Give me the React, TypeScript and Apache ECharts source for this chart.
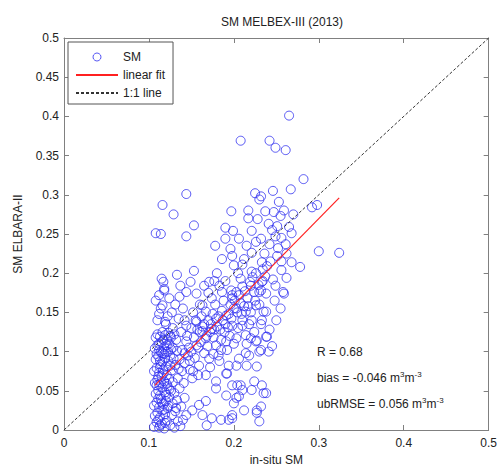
import React, { useEffect, useRef } from "react";
import * as echarts from "echarts";

const chartTitle = "SM MELBEX-III (2013)";
const xName = "in-situ SM";
const yName = "SM ELBARA-II";
const legendNames = ["SM", "linear fit", "1:1 line"];
const statLines = ["R = 0.68", "bias = -0.046 m{sup|3}m{sup|-3}", "ubRMSE = 0.056 m{sup|3}m{sup|-3}"];

// upper outliers and upper cloud
const upperPts: number[][] = [
  [0.265, 0.401], [0.208, 0.369], [0.242, 0.369], [0.249, 0.36], [0.261, 0.357], [0.282, 0.32],
  [0.144, 0.301], [0.116, 0.287], [0.129, 0.275], [0.153, 0.261], [0.108, 0.251], [0.114, 0.25],
  [0.144, 0.247], [0.225, 0.302], [0.232, 0.298], [0.246, 0.305], [0.267, 0.307], [0.23, 0.294],
  [0.197, 0.279], [0.217, 0.28], [0.217, 0.27], [0.228, 0.269], [0.237, 0.279], [0.247, 0.278],
  [0.253, 0.291], [0.259, 0.28], [0.255, 0.273], [0.27, 0.275], [0.241, 0.263], [0.251, 0.26],
  [0.265, 0.259], [0.19, 0.258], [0.199, 0.254], [0.206, 0.244], [0.221, 0.254], [0.232, 0.244],
  [0.242, 0.237], [0.249, 0.247], [0.268, 0.251], [0.261, 0.237], [0.178, 0.235], [0.19, 0.244],
  [0.196, 0.231], [0.186, 0.218], [0.198, 0.222], [0.212, 0.218], [0.221, 0.226], [0.233, 0.214],
  [0.251, 0.222], [0.239, 0.209], [0.268, 0.214], [0.278, 0.208], [0.256, 0.204], [0.262, 0.194],
  [0.249, 0.184], [0.258, 0.176], [0.21, 0.211], [0.221, 0.202], [0.208, 0.193], [0.219, 0.189],
  [0.21, 0.183], [0.233, 0.189], [0.133, 0.198], [0.153, 0.203], [0.115, 0.193], [0.117, 0.189],
  [0.118, 0.178], [0.137, 0.184], [0.149, 0.189], [0.165, 0.184], [0.171, 0.189], [0.177, 0.19],
  [0.183, 0.184], [0.186, 0.176], [0.197, 0.178], [0.203, 0.176], [0.224, 0.176], [0.232, 0.178],
  [0.238, 0.174], [0.298, 0.287], [0.292, 0.284], [0.3, 0.228], [0.324, 0.226],
];

// middle cloud
const middlePts: number[][] = [
  [0.136, 0.17], [0.144, 0.176], [0.156, 0.174], [0.163, 0.159], [0.174, 0.168], [0.198, 0.168],
  [0.22, 0.184], [0.23, 0.176], [0.259, 0.174], [0.234, 0.19], [0.116, 0.159], [0.112, 0.148],
  [0.119, 0.138], [0.122, 0.145], [0.144, 0.133], [0.156, 0.138], [0.167, 0.151], [0.179, 0.142],
  [0.191, 0.146], [0.203, 0.155], [0.214, 0.151], [0.226, 0.159], [0.238, 0.151], [0.221, 0.14],
  [0.233, 0.14], [0.198, 0.133], [0.21, 0.133], [0.174, 0.129], [0.163, 0.126], [0.235, 0.151],
  [0.239, 0.119], [0.245, 0.107], [0.241, 0.1], [0.232, 0.102], [0.144, 0.113], [0.156, 0.108],
  [0.167, 0.117], [0.179, 0.108], [0.191, 0.113], [0.203, 0.117], [0.214, 0.121], [0.226, 0.113],
  [0.238, 0.119], [0.23, 0.1], [0.218, 0.095], [0.206, 0.091], [0.194, 0.082], [0.183, 0.088],
  [0.171, 0.091], [0.159, 0.082], [0.148, 0.088], [0.214, 0.098], [0.22, 0.117], [0.227, 0.114],
  [0.135, 0.078], [0.142, 0.085], [0.146, 0.095], [0.15, 0.1], [0.154, 0.092], [0.158, 0.105],
  [0.161, 0.112], [0.165, 0.098], [0.168, 0.12], [0.172, 0.125], [0.176, 0.118], [0.18, 0.132],
  [0.184, 0.128], [0.187, 0.14], [0.19, 0.135], [0.194, 0.148], [0.197, 0.142], [0.2, 0.155],
  [0.204, 0.15], [0.208, 0.162], [0.212, 0.158], [0.216, 0.168], [0.16, 0.125], [0.165, 0.135],
  [0.17, 0.14], [0.175, 0.148], [0.185, 0.115], [0.195, 0.12], [0.205, 0.13], [0.145, 0.12],
  [0.15, 0.13], [0.155, 0.14], [0.162, 0.145], [0.178, 0.16], [0.188, 0.165], [0.198, 0.172],
  [0.22, 0.15], [0.225, 0.165], [0.23, 0.16], [0.218, 0.135], [0.21, 0.14],
  [0.108, 0.165], [0.112, 0.172], [0.118, 0.18], [0.124, 0.168], [0.114, 0.155], [0.127, 0.15],
  [0.131, 0.16], [0.12, 0.135], [0.11, 0.14], [0.135, 0.142], [0.14, 0.155],
];

// additional points in the diagonal cloud
const diagonalPts: number[][] = [
  [0.147, 0.105], [0.153, 0.118], [0.157, 0.128], [0.163, 0.132], [0.169, 0.107], [0.173, 0.135],
  [0.177, 0.128], [0.182, 0.145], [0.186, 0.152], [0.189, 0.125], [0.193, 0.131], [0.196, 0.16],
  [0.201, 0.165], [0.206, 0.172], [0.209, 0.148], [0.213, 0.177], [0.217, 0.158], [0.222, 0.195],
  [0.226, 0.2], [0.229, 0.185], [0.234, 0.205], [0.237, 0.196], [0.243, 0.215], [0.246, 0.192],
  [0.252, 0.232], [0.256, 0.215], [0.205, 0.2], [0.2, 0.21], [0.215, 0.235], [0.226, 0.24],
  [0.236, 0.225], [0.245, 0.255], [0.256, 0.245], [0.262, 0.225], [0.19, 0.19], [0.18, 0.2],
  [0.17, 0.175], [0.16, 0.16], [0.152, 0.15], [0.142, 0.14], [0.138, 0.125], [0.142, 0.098],
  [0.148, 0.077], [0.132, 0.115], [0.128, 0.13], [0.185, 0.102], [0.176, 0.097], [0.215, 0.11],
  [0.224, 0.125], [0.232, 0.135], [0.242, 0.128], [0.25, 0.14], [0.255, 0.155], [0.248, 0.165],
];

// lower right scatter
const lowerPts: number[][] = [
  [0.227, 0.081], [0.224, 0.062], [0.233, 0.057], [0.235, 0.047], [0.221, 0.051], [0.232, 0.03],
  [0.227, 0.022], [0.23, 0.011], [0.212, 0.025], [0.206, 0.043], [0.2, 0.034], [0.198, 0.019],
  [0.194, 0.013], [0.185, 0.013], [0.179, 0.062], [0.204, 0.057], [0.192, 0.072], [0.215, 0.082],
  [0.203, 0.082], [0.139, 0.075], [0.151, 0.066], [0.167, 0.07], [0.191, 0.072], [0.198, 0.057],
  [0.208, 0.057], [0.21, 0.051], [0.179, 0.053], [0.167, 0.037], [0.159, 0.032], [0.151, 0.025],
  [0.144, 0.019], [0.163, 0.019], [0.174, 0.015], [0.198, 0.015], [0.227, 0.025], [0.203, 0.041],
  [0.191, 0.044], [0.238, 0.047], [0.136, 0.053], [0.142, 0.041], [0.132, 0.028], [0.168, 0.006],
  [0.152, 0.075], [0.158, 0.07], [0.172, 0.08], [0.182, 0.095], [0.192, 0.102], [0.2, 0.11],
];

// dense band near 0.11
const bandPts: number[][] = [
  [0.106, 0.004], [0.109, 0.01], [0.112, 0.003], [0.115, 0.008], [0.118, 0.002], [0.121, 0.012],
  [0.125, 0.006], [0.13, 0.003], [0.134, 0.011], [0.107, 0.018], [0.11, 0.022], [0.113, 0.016],
  [0.116, 0.025], [0.119, 0.02], [0.122, 0.028], [0.127, 0.019], [0.131, 0.024], [0.106, 0.031],
  [0.109, 0.035], [0.112, 0.029], [0.114, 0.04], [0.117, 0.033], [0.12, 0.037], [0.124, 0.042],
  [0.128, 0.034], [0.133, 0.038], [0.108, 0.046], [0.111, 0.05], [0.113, 0.044], [0.116, 0.054],
  [0.119, 0.048], [0.122, 0.056], [0.126, 0.05], [0.13, 0.047], [0.107, 0.06], [0.11, 0.064],
  [0.112, 0.058], [0.115, 0.068], [0.118, 0.062], [0.121, 0.07], [0.124, 0.065], [0.128, 0.061],
  [0.134, 0.066], [0.106, 0.075], [0.109, 0.079], [0.112, 0.073], [0.114, 0.084], [0.117, 0.077],
  [0.12, 0.081], [0.123, 0.088], [0.127, 0.076], [0.131, 0.083], [0.108, 0.09], [0.111, 0.094],
  [0.113, 0.088], [0.116, 0.098], [0.119, 0.092], [0.122, 0.1], [0.125, 0.095], [0.129, 0.091],
  [0.107, 0.104], [0.11, 0.108], [0.112, 0.102], [0.115, 0.112], [0.118, 0.106], [0.121, 0.115],
  [0.124, 0.11], [0.128, 0.105], [0.133, 0.101], [0.108, 0.118], [0.11, 0.122], [0.113, 0.119],
  [0.116, 0.125], [0.119, 0.121], [0.123, 0.124], [0.126, 0.118], [0.13, 0.122], [0.111, 0.013],
  [0.114, 0.06], [0.118, 0.097], [0.109, 0.057], [0.12, 0.045], [0.116, 0.087], [0.123, 0.031],
  [0.111, 0.068], [0.125, 0.082], [0.119, 0.009], [0.137, 0.005], [0.14, 0.013], [0.138, 0.03],
  [0.141, 0.06], [0.136, 0.09], [0.139, 0.102],
  [0.114, 0.1], [0.117, 0.115], [0.121, 0.108], [0.125, 0.12], [0.112, 0.11], [0.109, 0.097],
  [0.12, 0.1], [0.126, 0.103], [0.113, 0.08], [0.117, 0.072], [0.121, 0.059], [0.124, 0.052],
  [0.111, 0.04], [0.115, 0.035], [0.118, 0.026], [0.113, 0.006],
];

const fitLine: number[][] = [[0.107, 0.057], [0.324, 0.296]];
const oneToOne: number[][] = [[0, 0], [0.5, 0.5]];

const xTicks = { min: 0, max: 0.5, interval: 0.1 };
const yTicks = { min: 0, max: 0.5, interval: 0.05 };

export default function App() {
  const ref = useRef<HTMLDivElement>(null);
  useEffect(() => {
    if (!ref.current) return;
    const chart = echarts.init(ref.current, null, { renderer: "svg" });
    const font = "Liberation Sans";
    const axisColor = "#808080";
    const textColor = "#222";
    const fmt = (v: number) => String(Math.round(v * 1000) / 1000);
    const baseAxis = {
      type: "value" as const,
      splitLine: { show: false },
      axisLine: { show: true, onZero: false, lineStyle: { color: axisColor, width: 1 } },
      axisTick: { show: true, inside: true, length: 5, lineStyle: { color: axisColor } },
    };
    const hiddenSymbol = { color: "rgba(0,0,0,0)", borderColor: "rgba(0,0,0,0)" };
    const circleStyle = { color: "rgba(0,0,0,0)", borderColor: "#3030f0", borderWidth: 1 };
    chart.setOption({
      animation: false,
      backgroundColor: "#fff",
      textStyle: { fontFamily: font },
      title: {
        text: chartTitle,
        left: 277,
        textAlign: "center",
        top: 11,
        textStyle: { fontSize: 12, fontWeight: "normal", color: textColor, fontFamily: font },
      },
      grid: { left: 64, right: 9, top: 38, bottom: 39 },
      legend: {
        data: [
          { name: legendNames[0], itemStyle: circleStyle },
          { name: legendNames[1], itemStyle: hiddenSymbol },
          { name: legendNames[2], itemStyle: hiddenSymbol },
        ],
        orient: "vertical",
        left: 68,
        top: 42,
        itemWidth: 42,
        itemHeight: 8,
        itemGap: 6,
        padding: [9, 8, 5, 7],
        borderColor: "#555",
        borderWidth: 1,
        backgroundColor: "#fff",
        textStyle: { fontSize: 12, color: textColor, fontFamily: font },
      },
      xAxis: [
        {
          ...baseAxis,
          ...xTicks,
          position: "bottom",
          name: xName,
          nameLocation: "middle",
          nameGap: 24,
          nameTextStyle: { fontSize: 12, color: textColor, fontFamily: font },
          axisLabel: { fontSize: 12, color: textColor, margin: 7, formatter: fmt },
        },
        { ...baseAxis, ...xTicks, position: "top", axisLabel: { show: false } },
      ],
      yAxis: [
        {
          ...baseAxis,
          ...yTicks,
          position: "left",
          name: yName,
          nameLocation: "middle",
          nameGap: 40,
          nameTextStyle: { fontSize: 12, color: textColor, fontFamily: font },
          axisLabel: { fontSize: 12, color: textColor, margin: 5, formatter: fmt },
        },
        { ...baseAxis, ...yTicks, position: "right", axisLabel: { show: false } },
      ],
      series: [
        {
          name: legendNames[0],
          type: "scatter",
          symbol: "circle",
          symbolSize: 9,
          xAxisIndex: 0,
          yAxisIndex: 0,
          itemStyle: circleStyle,
          data: [...bandPts, ...lowerPts, ...middlePts, ...diagonalPts, ...upperPts],
        },
        {
          name: legendNames[1],
          type: "line",
          symbol: "none",
          xAxisIndex: 0,
          yAxisIndex: 0,
          lineStyle: { color: "#ff2020", width: 1.2 },
          itemStyle: { color: "#ff2020" },
          data: fitLine,
        },
        {
          name: legendNames[2],
          type: "line",
          symbol: "none",
          xAxisIndex: 0,
          yAxisIndex: 0,
          lineStyle: { color: "#333", width: 1, type: [3, 2] },
          itemStyle: { color: "#333" },
          data: oneToOne,
        },
      ],
      graphic: statLines.map((t, i) => ({
        type: "text",
        left: 317,
        top: 344 + i * 26,
        z: 100,
        style: {
          text: t,
          fill: textColor,
          font: `12px "${font}"`,
          lineHeight: 16,
          rich: {
            sup: { fontSize: 8, fill: textColor, fontFamily: font, verticalAlign: "top", lineHeight: 10 },
          },
        },
      })),
    });
    return () => chart.dispose();
  }, []);
  return (
    <div
      ref={ref}
      style={{ position: "absolute", left: 0, top: 0, width: 500, height: 471 }}
    />
  );
}
